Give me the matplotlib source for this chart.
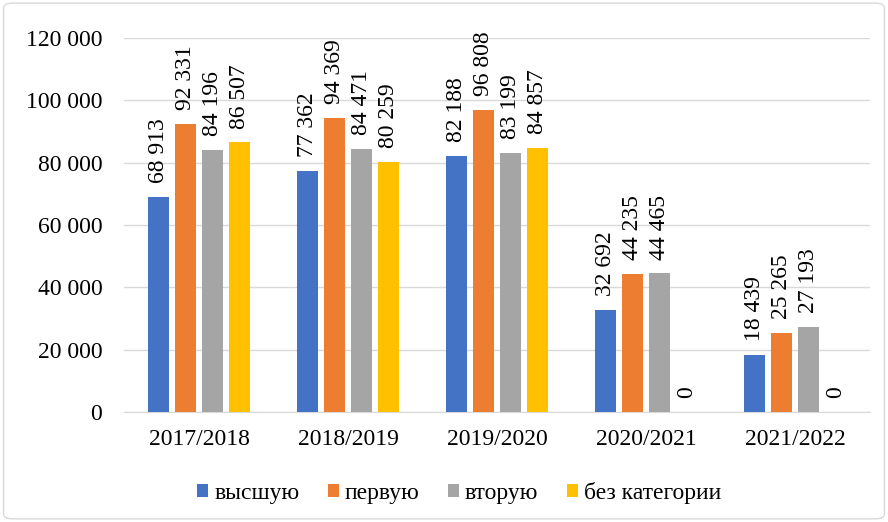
import numpy as np
import matplotlib.pyplot as plt
from matplotlib.patches import FancyBboxPatch
from matplotlib.ticker import FuncFormatter

plt.rcParams["font.family"] = ["Liberation Serif", "DejaVu Serif"]

years = ["2017/2018", "2018/2019", "2019/2020", "2020/2021", "2021/2022"]
series_names = ["высшую", "первую", "вторую", "без категории"]
vysshuyu = [68913, 77362, 82188, 32692, 18439]
pervuyu = [92331, 94369, 96808, 44235, 25265]
vtoruyu = [84196, 84471, 83199, 44465, 27193]
bez_kat = [86507, 80259, 84857, 0, 0]
colors = ["#4472C4", "#ED7D31", "#A5A5A5", "#FFC000"]


def fmt(v):
    return f"{int(v):,}".replace(",", " ")


fig = plt.figure(figsize=(8.88, 5.22), dpi=100)
ax = fig.add_axes([0.1402, 0.2107, 0.839, 0.7165])

x = np.arange(len(years))
step = 0.181
width = 0.144
all_series = [vysshuyu, pervuyu, vtoruyu, bez_kat]
for i, (vals, name, c) in enumerate(zip(all_series, series_names, colors)):
    pos = x + (i - 1.5) * step
    ax.bar(pos, vals, width, color=c, label=name, zorder=3)
    for p, v in zip(pos, vals):
        ax.annotate(fmt(v), (p, v), xytext=(0, 10), textcoords="offset points",
                    rotation=90, ha="center", va="bottom", fontsize=17, zorder=4)

ax.set_xlim(-0.5, 4.5)
ax.set_ylim(0, 120000)
ax.set_yticks(np.arange(0, 120001, 20000))
ax.yaxis.set_major_formatter(FuncFormatter(lambda v, p: fmt(v)))
ax.set_xticks(x)
ax.set_xticklabels(years)
ax.tick_params(axis="both", length=0, labelsize=17)
ax.tick_params(axis="y", pad=16)
ax.tick_params(axis="x", pad=12)
ax.grid(axis="y", color="#D9D9D9", linewidth=1, zorder=0)
for s in ["top", "right", "left"]:
    ax.spines[s].set_visible(False)
ax.spines["bottom"].set_color("#D9D9D9")

ax.legend(loc="center", bbox_to_anchor=(0.449, -0.2165), ncol=4, frameon=False,
          fontsize=17, handlelength=0.47, handleheight=0.47, handletextpad=0.25,
          columnspacing=1.2)

border = FancyBboxPatch((0.004, 0.006), 0.992, 0.988, boxstyle="round,pad=0,rounding_size=0.01",
                        transform=fig.transFigure, fill=False, edgecolor="#D9D9D9", linewidth=1)
fig.patches.append(border)

fig.savefig("out.png", dpi=100)
